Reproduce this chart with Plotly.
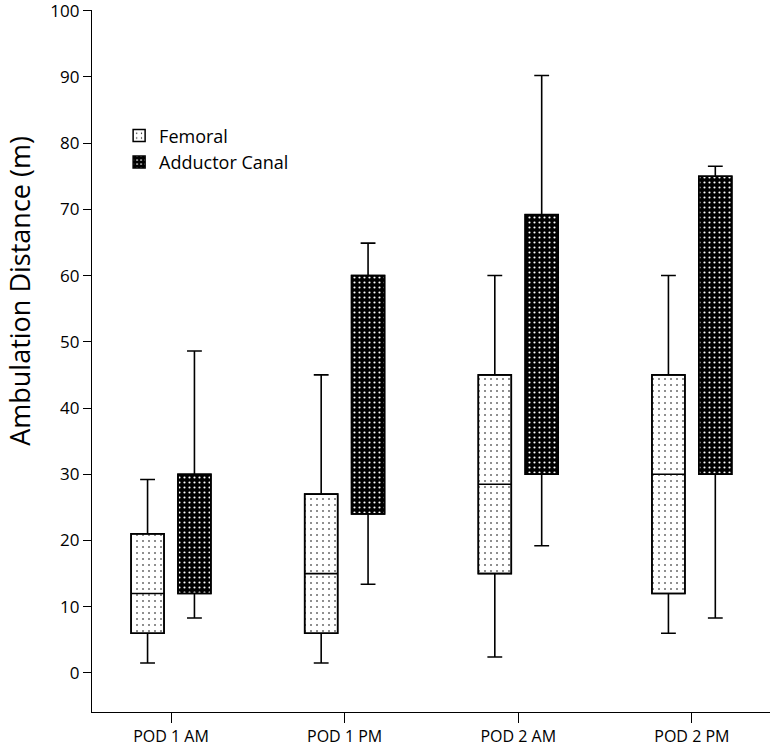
import plotly.graph_objects as go

# ── Data ──────────────────────────────────────────────────────────────────────
categories = ["POD 1 AM", "POD 1 PM", "POD 2 AM", "POD 2 PM"]

fem_low    = [1.5, 1.5, 2.4, 6.0]
fem_q1     = [6.0, 6.0, 15.0, 12.0]
fem_median = [12.0, 15.0, 28.5, 30.0]
fem_q3     = [21.0, 27.0, 45.0, 45.0]
fem_high   = [29.2, 45.0, 60.0, 60.0]

add_low    = [8.3, 13.4, 19.2, 8.3]
add_q1     = [12.0, 24.0, 30.0, 30.0]
add_median = [17.9, 41.9, 46.4, 52.6]
add_q3     = [30.0, 60.0, 69.2, 75.0]
add_high   = [48.6, 64.9, 90.2, 76.5]

FONT = "Open Sans"
OFFSET = 0.135
BOX_W = 0.19

idx = list(range(len(categories)))
x_fem = [i - OFFSET for i in idx]
x_add = [i + OFFSET for i in idx]

fig = go.Figure()

# patterned box bodies (bars from q1 to q3)
fig.add_trace(go.Bar(
    x=x_fem, base=fem_q1, y=[b - a for a, b in zip(fem_q1, fem_q3)],
    width=BOX_W, name="Femoral",
    marker=dict(
        color="white",
        line=dict(color="black", width=1.5),
        pattern=dict(shape=".", fgcolor="black", bgcolor="white",
                     size=6, solidity=0.06, fillmode="replace"),
    ),
    hoverinfo="skip",
))
fig.add_trace(go.Bar(
    x=x_add, base=add_q1, y=[b - a for a, b in zip(add_q1, add_q3)],
    width=BOX_W, name="Adductor Canal",
    marker=dict(
        color="black",
        line=dict(color="black", width=1.5),
        pattern=dict(shape=".", fgcolor="white", bgcolor="black",
                     size=5, solidity=0.15, fillmode="replace"),
    ),
    hoverinfo="skip",
))

# whiskers and medians
for xs, lo, q1, med, q3, hi in [
    (x_fem, fem_low, fem_q1, fem_median, fem_q3, fem_high),
    (x_add, add_low, add_q1, add_median, add_q3, add_high),
]:
    fig.add_trace(go.Box(
        x=xs, q1=q1, median=med, q3=q3, lowerfence=lo, upperfence=hi,
        width=BOX_W, whiskerwidth=0.45,
        fillcolor="rgba(0,0,0,0)",
        line=dict(color="black", width=1.6),
        showlegend=False,
    ))

fig.update_layout(
    width=774, height=748,
    paper_bgcolor="white", plot_bgcolor="white",
    font=dict(family=FONT, color="black", size=15),
    margin=dict(l=92, r=4, t=10, b=36),
    barmode="overlay", boxmode="overlay",
    legend=dict(
        x=0.04, y=0.847, xanchor="left", yanchor="top",
        font=dict(family=FONT, size=18),
        bgcolor="rgba(0,0,0,0)", tracegroupgap=0,
    ),
    xaxis=dict(
        range=[-0.455, 3.45],
        tickvals=idx, ticktext=categories,
        showline=True, linecolor="black", linewidth=1.2,
        ticks="outside", ticklen=10, tickcolor="black",
        showgrid=False, zeroline=False, automargin=False,
        tickfont=dict(size=16),
    ),
    yaxis=dict(
        range=[-5.9, 100.1],
        tickvals=list(range(0, 101, 10)),
        showline=True, linecolor="black", linewidth=1.2,
        ticks="outside", ticklen=8, tickcolor="black",
        showgrid=False, zeroline=False, automargin=False,
        ticklabeloverflow="allow",
        tickfont=dict(size=17),
    ),
    annotations=[dict(
        text="Ambulation Distance (m)", textangle=-90,
        xref="paper", yref="paper", x=-0.1062, y=0.6,
        xanchor="center", yanchor="middle", showarrow=False,
        borderpad=0,
        font=dict(family=FONT, size=27),
    )],
)

fig.write_html("out.html", config={"displayModeBar": False},
               post_script="document.body.style.margin='0';")
